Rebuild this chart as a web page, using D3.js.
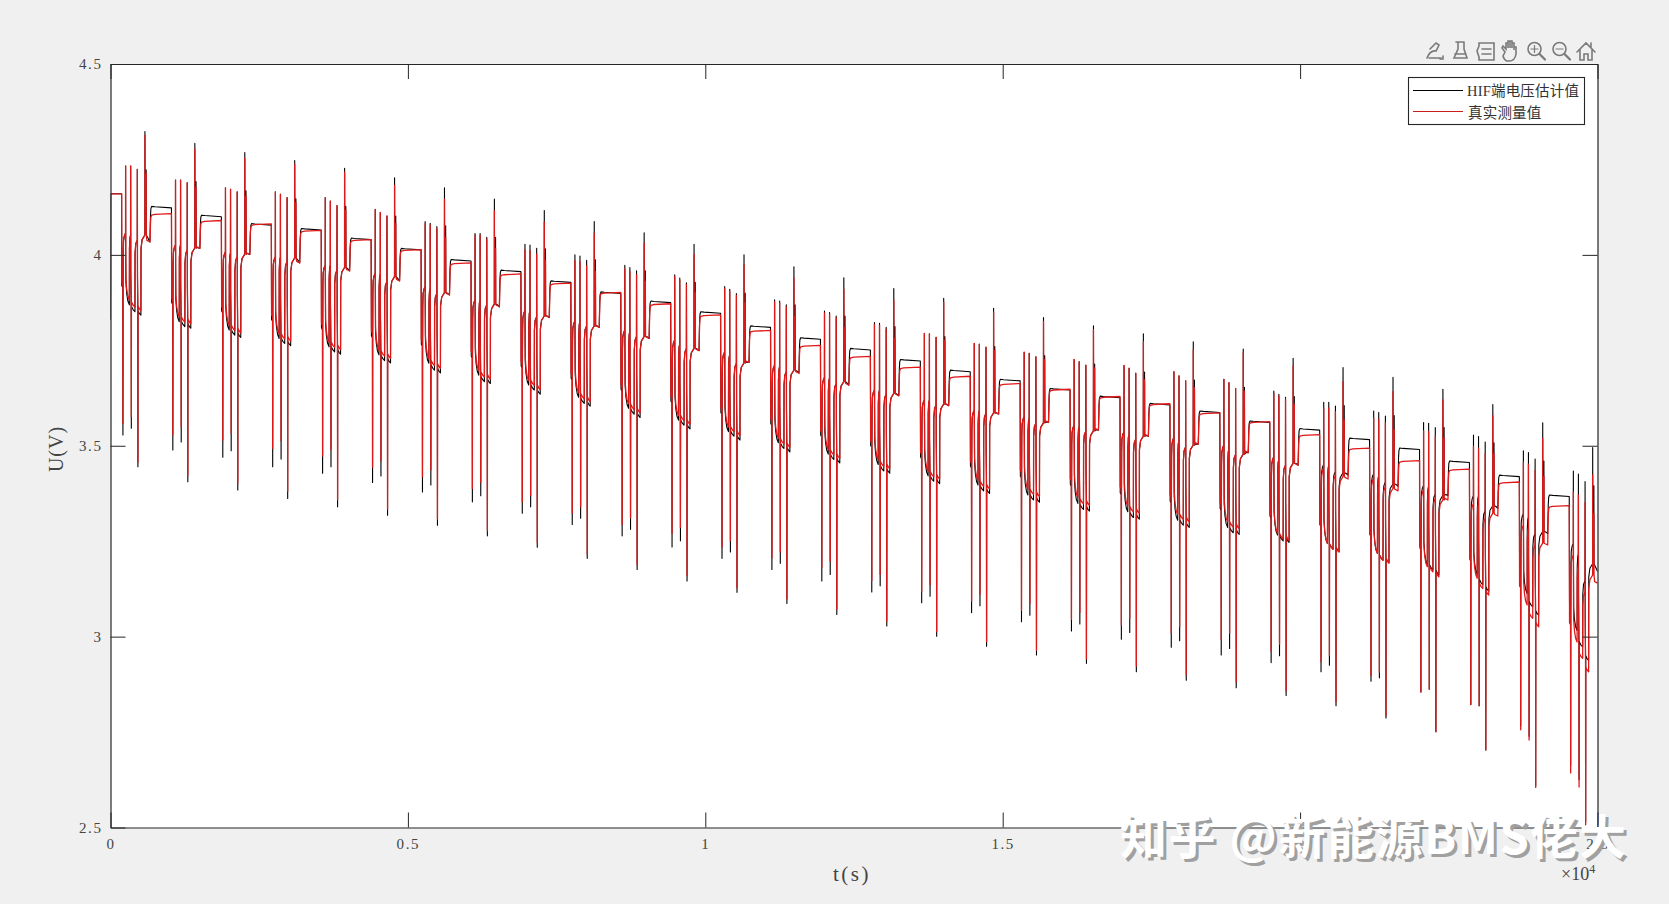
<!DOCTYPE html>
<html>
<head>
<meta charset="utf-8">
<script src="https://cdn.jsdelivr.net/npm/d3@7/dist/d3.min.js"></script>
<style>
html,body{margin:0;padding:0;background:#f0f0f0;overflow:hidden}
text{font-family:"Liberation Serif","Noto Sans CJK SC",serif;fill:#262626}
</style>
</head>
<body>
<svg id="chart" width="1669" height="904"></svg>
<script>
// ---------- values (one entry per test cycle) ----------
const xTicks = [0, 5000, 10000, 15000, 20000, 25000];
const yTicks = [2.5, 3, 3.5, 4, 4.5];
const legendNames = ["HIF端电压估计值", "真实测量值"];
const cycleStart = [187,1026,1866,2705,3544,4384,5223,6062,6901,7741,8580,9419,10259,11098,11937,12777,13616,14455,15294,16134,16973,17812,18652,19491,20330,21170,22009,22848,23687,24527];
const top1 = [4.233,4.196,4.176,4.165,4.150,4.119,4.087,4.056,4.028,4.000,3.973,3.948,3.917,3.882,3.853,3.823,3.794,3.768,3.745,3.726,3.710,3.694,3.674,3.643,3.614,3.591,3.561,3.528,3.487,3.434];
const top2 = [4.233,4.196,4.172,4.159,4.141,4.111,4.083,4.056,4.026,3.997,3.967,3.939,3.910,3.879,3.849,3.821,3.793,3.766,3.742,3.720,3.703,3.683,3.665,3.635,3.614,3.587,3.559,3.524,3.482,3.426];
const top3 = [4.224,4.189,4.165,4.150,4.129,4.102,4.074,4.046,4.017,3.986,3.958,3.927,3.899,3.869,3.840,3.810,3.784,3.758,3.733,3.711,3.690,3.670,3.650,3.627,3.604,3.578,3.548,3.510,3.465,3.406];
const top4 = [4.323,4.292,4.268,4.247,4.227,4.202,4.176,4.146,4.116,4.087,4.058,4.028,4.000,3.969,3.940,3.912,3.886,3.860,3.836,3.814,3.793,3.772,3.753,3.729,3.705,3.679,3.648,3.608,3.560,3.495];
const top4RedGap = [.01,.015,.015,.01,.01,.02,.03,.03,.03,.03,.027,.027,.026,.03,.03,.03,.01,.01,.01,.01,.02,.02,.01,.02,.037,.037,.028,.029,.041,.072];
const topRedGap = [0,0,0,0,0,0,.005,.005,.015,.015,.01,.005,.005,.005,.005,.005,0,0,0,0,0,0,0,.005,.015,.018,.022,.03,.03,.055];
const low1 = [3.528,3.489,3.470,3.445,3.428,3.404,3.379,3.353,3.323,3.294,3.264,3.235,3.205,3.176,3.146,3.117,3.089,3.063,3.039,3.015,2.993,2.972,2.952,2.932,2.908,2.883,2.855,2.822,2.766,2.663];
const low2 = [3.546,3.510,3.487,3.465,3.445,3.421,3.397,3.369,3.340,3.310,3.281,3.251,3.222,3.192,3.163,3.133,3.106,3.081,3.056,3.033,3.011,2.989,2.969,2.950,2.925,2.892,2.862,2.819,2.739,2.626];
const low3 = [3.445,3.406,3.384,3.362,3.340,3.318,3.292,3.264,3.234,3.205,3.176,3.146,3.116,3.087,3.058,3.028,3.001,2.975,2.952,2.930,2.908,2.886,2.866,2.846,2.819,2.787,2.751,2.703,2.609,2.515];
const lowRedGap = [.03,.04,.045,.048,.045,.04,.04,.035,.03,.03,.03,.035,.03,.03,.035,.03,.03,.03,.03,.03,.037,.037,.04,.03,.026,.015,0,0,-.01,-.02];
const load1 = [3.869,3.825,3.803,3.781,3.759,3.738,3.716,3.685,3.659,3.627,3.598,3.567,3.537,3.508,3.478,3.451,3.421,3.397,3.371,3.349,3.327,3.305,3.286,3.266,3.244,3.218,3.183,3.153,3.083,2.986];
const load2 = [3.851,3.812,3.790,3.768,3.746,3.723,3.698,3.668,3.646,3.611,3.583,3.554,3.525,3.493,3.464,3.434,3.407,3.382,3.358,3.333,3.312,3.292,3.272,3.251,3.229,3.200,3.170,3.126,3.048,2.943];
const load3 = [3.842,3.808,3.784,3.762,3.740,3.717,3.691,3.663,3.635,3.604,3.574,3.544,3.515,3.484,3.455,3.428,3.401,3.375,3.352,3.329,3.308,3.286,3.268,3.247,3.222,3.193,3.157,3.109,3.026,2.908];
const loadGap = [.012,.012,.012,.012,.012,.012,.012,.012,.012,.012,.012,.012,.012,.012,.012,.012,.012,.012,.015,.015,.015,.015,.015,.005,0,0,-.005,-.01,-.03,-.03];
const rest1 = [4.057,4.026,4.008,3.995,3.973,3.952,3.917,3.882,3.854,3.827,3.803,3.777,3.746,3.711,3.679,3.646,3.620,3.593,3.576,3.554,3.537,3.522,3.502,3.471,3.441,3.415,3.384,3.349,3.292,3.214];
const rest2 = [4.052,4.026,4.005,3.994,3.973,3.950,3.912,3.882,3.854,3.825,3.799,3.766,3.738,3.707,3.677,3.646,3.620,3.593,3.572,3.550,3.530,3.513,3.491,3.464,3.439,3.410,3.382,3.349,3.284,3.187];
const rest3 = [4.039,4.013,3.995,3.982,3.960,3.930,3.899,3.869,3.838,3.814,3.786,3.755,3.716,3.694,3.663,3.635,3.607,3.585,3.559,3.538,3.517,3.497,3.477,3.449,3.423,3.393,3.362,3.310,3.240,3.117];
const rest4 = [4.052,4.018,4.002,3.992,3.967,3.943,3.901,3.871,3.840,3.814,3.786,3.755,3.717,3.698,3.668,3.637,3.609,3.586,3.560,3.539,3.525,3.502,3.478,3.454,3.419,3.388,3.358,3.323,3.245,3.161];
const restBlackGap = [0,0,0,0,0,0,0,0,0,0,0,0,0,0,0,0,0,0,0,0,0,0,0,0,.01,.012,.012,.02,.03,.03];
const tail = [4.034,4.017,4.001,3.979,3.958,3.932,3.895,3.864,3.836,3.810,3.781,3.749,3.718,3.690,3.659,3.631,3.605,3.583,3.561,3.541,3.525,3.504,3.482,3.449,3.413,3.382,3.358,3.316,3.240,3.140];
const plateauBlack = [4.125,4.102,4.080,4.067,4.042,4.015,3.986,3.958,3.930,3.901,3.877,3.849,3.812,3.781,3.753,3.724,3.696,3.672,3.648,3.628,3.609,3.589,3.563,3.543,3.518,3.492,3.458,3.421,3.369];
const plateauRed = [4.107,4.089,4.080,4.063,4.039,4.013,3.978,3.949,3.925,3.901,3.871,3.842,3.801,3.762,3.733,3.705,3.681,3.662,3.647,3.628,3.609,3.585,3.562,3.528,3.493,3.460,3.438,3.404,3.342];
const firstLevel = 4.16, blackStart = 3.83, tEnd = 25000;

// ---------- page frame ----------
const W = 1669, H = 904;
const plot = {l:110.5, r:1597.5, t:64, b:827.5};
const blackColor = "#000000", redColor = "#e01818";
const svg = d3.select("#chart");
svg.append("rect").attr("width",W).attr("height",H).attr("fill","#f0f0f0");
svg.append("rect").attr("x",plot.l).attr("y",plot.t).attr("width",plot.r-plot.l).attr("height",plot.b-plot.t).attr("fill","#fff");
const x = d3.scaleLinear().domain([0,tEnd]).range([plot.l,plot.r]);
const y = d3.scaleLinear().domain([2.5,4.5]).range([plot.b,plot.t]);

// ---------- assemble each trace from the per-cycle readings ----------
function trace(isRed){
  const pts = isRed ? [[0,firstLevel],[cycleStart[0],firstLevel]] : [[0,blackStart],[4,firstLevel],[cycleStart[0],firstLevel]];
  cycleStart.forEach((s,k)=>{
    const g = loadGap[k], gl = lowRedGap[k], gt = topRedGap[k];
    const lvl = v => isRed ? (g>0 ? v+g : v) : (g>0 ? v : v-g);
    const rst = v => isRed ? v : v + restBlackGap[k];
    const tp = v => isRed ? v-gt : v;
    const lw = (v,f) => isRed ? v+gl*f : v;
    const add = (o,v) => pts.push([s+o,v]);
    const L1=lvl(load1[k]), L2=lvl(load2[k]), L3=lvl(load3[k]);
    const R1=rst(rest1[k]), R2=rst(rest2[k]), R3=rst(rest3[k]), R4=rst(rest4[k]);
    const T4 = isRed ? top4[k]-top4RedGap[k] : top4[k];
    add(3,L1+.05); add(20,L1+.045); add(22,lw(low1[k],1)); add(24,L1+.04);
    add(27,R1-.05); add(32,R1-.02); add(45,R1-.008); add(66,R1);
    add(67,tp(top1[k])); add(69,R1-.05); add(72,L1+.06); add(85,L1+.03); add(105,L1+.01); add(130,L1);
    add(132,R2-.035); add(140,R2-.008); add(151,R2);
    add(152,tp(top2[k])); add(154,R2-.1); add(161,L2+.02); add(163,lw(low2[k],1)); add(165,L2+.014); add(195,L2+.005); add(224,L2);
    add(226,R3-.035); add(238,R3-.01); add(263,R3);
    add(264,tp(top3[k])); add(267,R3-.1); add(272,L3+.02); add(274,lw(low3[k],.4)); add(276,L3+.012); add(300,L3+.004); add(324,L3);
    add(326,R4-.035); add(345,R4-.012); add(391,R4);
    add(392,T4); add(395,R4+.004); add(409,R4+.002); add(412,T4-.1); add(415,R4);
    const E = isRed ? tail[k] : tail[k]+restBlackGap[k];
    if(isRed){ add(425,E+.004); } else { add(440,(R4+E)/2+.002); }
    add(476,E);
    if(k<plateauBlack.length){
      const P = isRed ? plateauRed[k] : plateauBlack[k];
      add(480,P-.06); add(485,P-.024); add(492,isRed?P-.008:P-.004); add(505,isRed?P-.003:P+.002); add(560,isRed?P-.001:P+.001);
      add(838,isRed?P+.001:P-.002);
    }
  });
  return pts;
}

const defs = svg.append("defs");
defs.append("clipPath").attr("id","plotclip").append("rect")
  .attr("x",plot.l).attr("y",plot.t).attr("width",plot.r-plot.l).attr("height",plot.b-plot.t);
const line = d3.line().x(d=>x(d[0])).y(d=>y(d[1]));
const traces = svg.append("g").attr("clip-path","url(#plotclip)");
traces.append("path").attr("d",line(trace(false))).attr("fill","none").attr("stroke",blackColor).attr("stroke-width",1.1).attr("stroke-linejoin","round");
traces.append("path").attr("d",line(trace(true))).attr("fill","none").attr("stroke",redColor).attr("stroke-width",1.3).attr("stroke-linejoin","round");

// ---------- axes (MATLAB box with inward ticks) ----------
const tickLen = 15;
function style(g){
  g.selectAll("path.domain").attr("stroke","#262626").attr("stroke-width",1.2);
  g.selectAll(".tick line").attr("stroke","#262626").attr("stroke-width",1);
  g.selectAll("text").style("font-size","15px").style("font-family",'"Liberation Serif",serif').style("letter-spacing","1.6px").style("fill","#444");
}
svg.append("g").attr("transform",`translate(0,${plot.b})`)
  .call(d3.axisBottom(x).tickValues(xTicks).tickFormat(d=>d/10000).tickSizeInner(-tickLen).tickSizeOuter(0).tickPadding(11)).call(style);
svg.append("g").attr("transform",`translate(0,${plot.t})`)
  .call(d3.axisTop(x).tickValues(xTicks).tickFormat("").tickSizeInner(-tickLen).tickSizeOuter(0)).call(style);
svg.append("g").attr("transform",`translate(${plot.l},0)`)
  .call(d3.axisLeft(y).tickValues(yTicks).tickFormat(d=>d).tickSizeInner(-tickLen).tickSizeOuter(0).tickPadding(8)).call(style);
svg.append("g").attr("transform",`translate(${plot.r},0)`)
  .call(d3.axisRight(y).tickValues(yTicks).tickFormat("").tickSizeInner(-tickLen).tickSizeOuter(0)).call(style);

// axis titles and exponent
svg.append("text").attr("x",852).attr("y",881).attr("text-anchor","middle")
  .style("font-size","21px").style("letter-spacing","2.5px").style("fill","#444").text("t(s)");
svg.append("text").attr("transform","translate(63,449) rotate(-90)").attr("text-anchor","middle")
  .style("font-size","20px").style("letter-spacing","1px").style("fill","#444").text("U(V)");
const ex = svg.append("text").attr("x",1561).attr("y",880).style("font-size","18px").style("fill","#444");
ex.append("tspan").text("×10");
ex.append("tspan").attr("dy",-7).style("font-size","12px").text("4");

// ---------- legend ----------
const lg = svg.append("g");
lg.append("rect").attr("x",1408.5).attr("y",77.5).attr("width",176).attr("height",47).attr("fill","#fff").attr("stroke","#262626").attr("stroke-width",1.1);
[[blackColor,90.5],[ "#c81e1e",111.5]].forEach(([c,ly],i)=>{
  lg.append("line").attr("x1",1413).attr("x2",1463).attr("y1",ly).attr("y2",ly).attr("stroke",c).attr("stroke-width",1.1);
  lg.append("text").attr("x",i?1468:1467).attr("y",ly+(i?6:5)).style("font-size","14.5px").style("fill","#333").style("letter-spacing",i?"0.2px":"0.2px").text(legendNames[i]);
});

// ---------- figure toolbar icons ----------
const tb = svg.append("g").attr("transform","translate(0,-4)").attr("fill","none").attr("stroke","#7a7a7a").attr("stroke-width",1.6).attr("stroke-linecap","round");
const magnifier = (cx,sign)=>{
  tb.append("circle").attr("cx",cx-1.5).attr("cy",53).attr("r",6.5);
  tb.append("line").attr("x1",cx+3.5).attr("y1",58).attr("x2",cx+9).attr("y2",63.5).attr("stroke-width",2.2);
  tb.append("line").attr("x1",cx-5).attr("x2",cx+2).attr("y1",53).attr("y2",53).attr("stroke-width",1.2);
  if(sign) tb.append("line").attr("x1",cx-1.5).attr("x2",cx-1.5).attr("y1",49.5).attr("y2",56.5).attr("stroke-width",1.2);
};
tb.append("path").attr("d","M1427 62 q3-8 9-7 l3-6 -3-2 -6 6 M1429 62 h12 M1443 60 v3 h-3");           // brush pen
tb.append("path").attr("d","M1456 46 h8 M1458 46 v7 l-4 9 h13 l-3-9 v-7 M1455 58 h11");                 // brush
tb.append("path").attr("d","M1479 50 v-3 h15 v17 h-15 v-3 M1479 50 l-2 5 2 6 M1482 53 h9 M1482 58 h9"); // legend
tb.append("path").attr("d","M1505 56 l-3-4 1-2 3 3 v-6 h2 v5 v-7 h2 v7 v-7 h2 v7 v-5 h2 v7 v-3 h2 v7 q-1 7-7 7 h-2 q-3-1-4-5z"); // hand
magnifier(1536,true);
magnifier(1561,false);
tb.append("path").attr("d","M1577 56 l9-9 9 9 M1580 54 v10 h4 v-6 h4 v6 h4 v-10 M1591 47 v4");             // home

// ---------- watermark ----------
const wm = "知乎 @新能源BMS佬大";
[["#a0a0a0",3,3],["#ffffff",0,0]].forEach(([c,dx,dy])=>{
  svg.append("text").attr("x",1120+dx).attr("y",854+dy)
    .style("font-family",'"Noto Sans CJK SC",sans-serif').style("font-size","47px").style("font-weight",700)
    .style("fill",c).attr("textLength",506).attr("lengthAdjust","spacing").text(wm);
});
</script>
</body>
</html>
